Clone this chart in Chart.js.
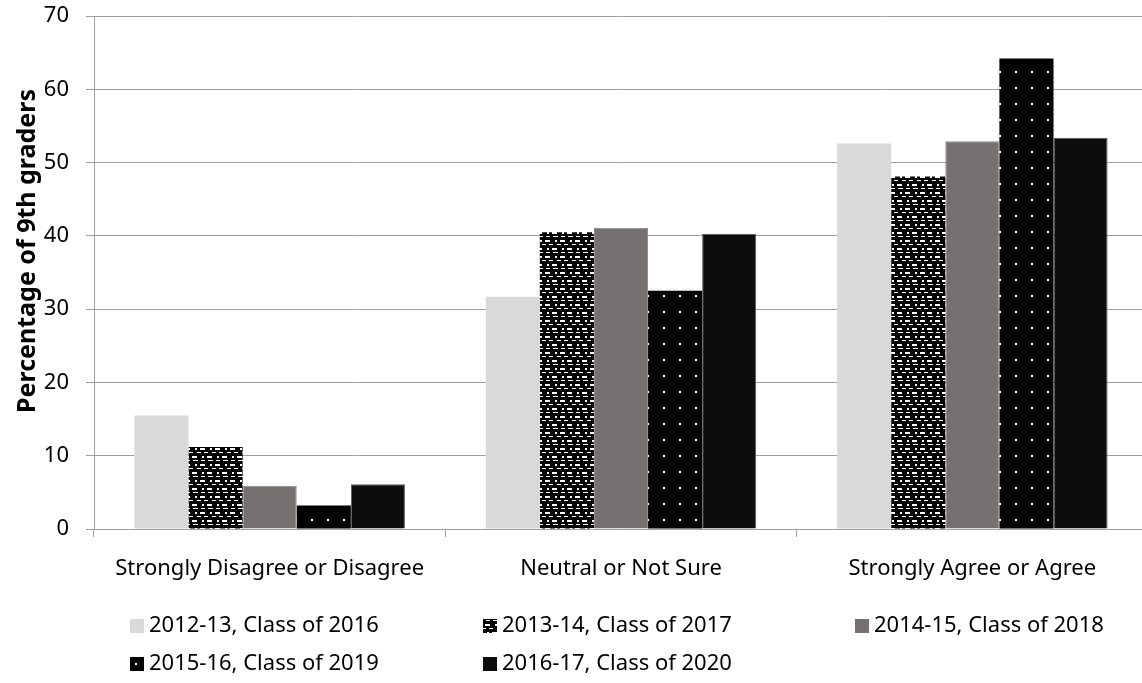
<!DOCTYPE html>
<html>
<head>
<meta charset="utf-8">
<script src="https://cdn.jsdelivr.net/npm/chart.js@4/dist/chart.umd.min.js"></script>
<style>
  html, body { margin: 0; padding: 0; background: #fff; overflow: hidden; }
  #wrap { width: 1142px; height: 683px; overflow: hidden; }
</style>
</head>
<body>
<div id="wrap"><canvas id="canvas" width="1148" height="683"></canvas></div>
<script>
const categories = ['Strongly Disagree or Disagree', 'Neutral or Not Sure', 'Strongly Agree or Agree'];
const seriesLabels = [
    '2012-13, Class of 2016',
    '2013-14, Class of 2017',
    '2014-15, Class of 2018',
    '2015-16, Class of 2019',
    '2016-17, Class of 2020'
];
const class2016 = [15.5, 31.7, 52.6];
const class2017 = [11.2, 40.5, 48.1];
const class2018 = [5.9, 41.1, 52.9];
const class2019 = [3.2, 32.5, 64.2];
const class2020 = [6.1, 40.3, 53.4];
const yMin = 0;
const yMax = 70;
const yStep = 10;
const yTitle = 'Percentage of 9th graders';

const FONT = "'Noto Sans', sans-serif";

// small tiles for the patterned bars
function makePattern(w, h, draw){
    const c = document.createElement('canvas');
    c.width = w; c.height = h;
    const g = c.getContext('2d');
    g.fillStyle = '#000';
    g.fillRect(0, 0, w, h);
    g.fillStyle = '#fff';
    draw(g);
    return document.getElementById('canvas').getContext('2d').createPattern(c, 'repeat');
}

const dashPattern = makePattern(15, 16, g => {
    g.fillRect(0, 0, 2, 2);
    g.fillRect(5, 0, 5, 2);
    g.fillRect(2, 4, 4, 1);
    g.fillRect(9, 4, 4, 1);
    g.fillRect(7, 8, 2, 2);
    g.fillRect(12, 8, 3, 2);
    g.fillRect(0, 8, 2, 2);
    g.fillRect(0, 12, 3, 1);
    g.fillRect(6, 12, 4, 1);
    g.fillRect(13, 12, 2, 1);
});

const dotPattern = makePattern(16, 16, g => {
    g.fillRect(7, 7, 2, 2);
});

// legend in three columns under the axis, plus the rotated axis title
const legendSpots = [[130, 626], [483, 626], [855, 626], [130, 664], [483, 664]];
const legendGrid = {
    id: 'legendGrid',
    afterDraw(chart){
        const ctx = chart.ctx;
        ctx.save();
        ctx.font = '22px ' + FONT;
        ctx.textBaseline = 'middle';
        chart.data.datasets.forEach((ds, i) => {
            const [x, y] = legendSpots[i];
            ctx.fillStyle = ds.backgroundColor;
            ctx.fillRect(x, y - 7, 14, 14);
            ctx.fillStyle = '#000';
            ctx.fillText(ds.label, x + 19, y);
        });

        ctx.translate(28, 251);
        ctx.rotate(-Math.PI / 2);
        ctx.font = 'bold 25px ' + FONT;
        ctx.textAlign = 'center';
        ctx.fillText(yTitle, 0, 0);
        ctx.restore();
    }
};

const ctx = document.getElementById('canvas').getContext('2d');
const myChart = new Chart(ctx, {
    type: 'bar',
    data: {
        labels: categories,
        datasets: [
            { label: seriesLabels[0], data: class2016, backgroundColor: '#d9d9d9' },
            { label: seriesLabels[1], data: class2017, backgroundColor: dashPattern },
            { label: seriesLabels[2], data: class2018, backgroundColor: '#767171', borderColor: '#8c8888', borderWidth: 1 },
            { label: seriesLabels[3], data: class2019, backgroundColor: dotPattern },
            { label: seriesLabels[4], data: class2020, backgroundColor: '#0d0d0d', borderColor: '#5a5a5a', borderWidth: 1 }
        ]
    },
    options: {
        responsive: false,
        animation: false,
        layout: {
            padding: { top: 16, right: 0, bottom: 100, left: 0 }
        },
        datasets: {
            bar: {
                categoryPercentage: 0.77,
                barPercentage: 1.0,
                borderSkipped: 'bottom'
            }
        },
        plugins: {
            legend: { display: false },
            tooltip: { enabled: false }
        },
        scales: {
            x: {
                grid: {
                    offset: true,
                    drawOnChartArea: false,
                    drawTicks: true,
                    tickLength: 8,
                    color: '#a0a0a0'
                },
                border: { color: '#a0a0a0' },
                ticks: {
                    color: '#000',
                    font: { family: FONT, size: 22 },
                    padding: 19,
                    maxRotation: 0
                },
                afterFit: s => { s.height = 54; }
            },
            y: {
                min: yMin,
                max: yMax,
                grid: {
                    color: '#a0a0a0',
                    tickLength: 8
                },
                border: { color: '#a0a0a0' },
                ticks: {
                    stepSize: yStep,
                    color: '#000',
                    font: { family: FONT, size: 22 },
                    padding: 17
                },
                afterFit: s => {
                    s.width = 94;
                    s.paddingTop = 0;
                    s.paddingBottom = 0;
                }
            }
        }
    },
    plugins: [legendGrid]
});
</script>
</body>
</html>
